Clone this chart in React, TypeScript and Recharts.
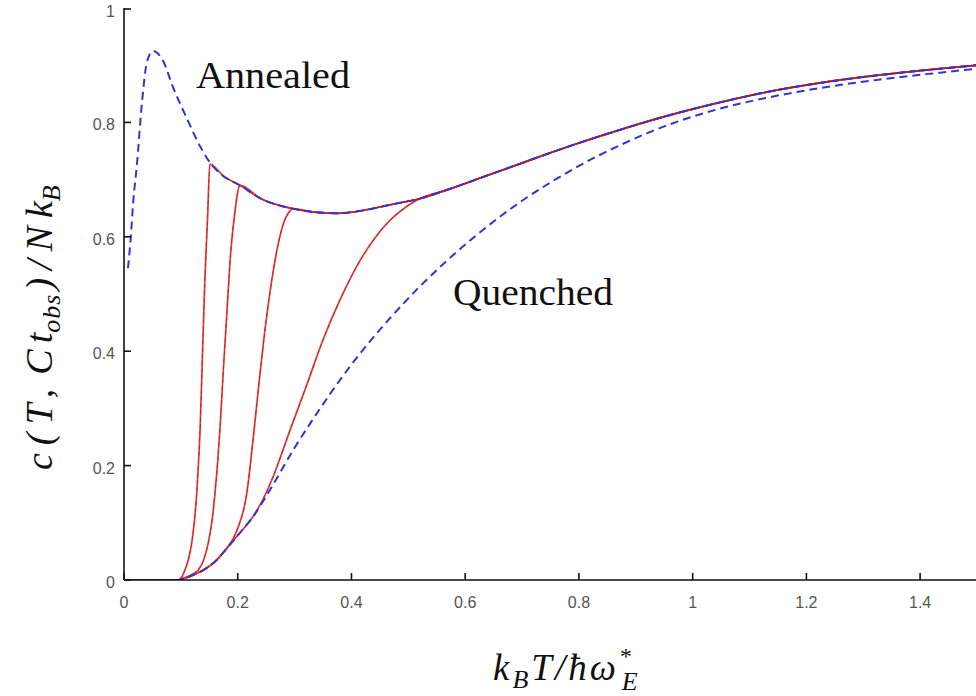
import React from "react";
import { LineChart, Line, XAxis, YAxis } from "recharts";

// ---- data ----
const annealedT = [0.007, 0.012, 0.0164, 0.0223, 0.032, 0.04, 0.051, 0.06, 0.069, 0.086, 0.11, 0.134, 0.151, 0.175, 0.204, 0.24, 0.298, 0.335, 0.374, 0.42, 0.468, 0.521, 0.568, 0.63, 0.697, 0.75, 0.8, 0.872, 0.95, 1.048, 1.13, 1.224, 1.33, 1.435, 1.5];
const annealedC = [0.545, 0.6, 0.664, 0.722, 0.839, 0.904, 0.925, 0.92, 0.907, 0.862, 0.808, 0.758, 0.73, 0.706, 0.69, 0.667, 0.649, 0.643, 0.641, 0.646, 0.656, 0.667, 0.682, 0.704, 0.728, 0.747, 0.764, 0.787, 0.81, 0.835, 0.853, 0.869, 0.883, 0.894, 0.9];

const quenchedT = [0, 0.095, 0.1, 0.11, 0.12, 0.139, 0.16, 0.178, 0.2, 0.227, 0.26, 0.298, 0.327, 0.38, 0.42, 0.468, 0.52, 0.562, 0.62, 0.697, 0.75, 0.8, 0.872, 0.95, 1.048, 1.13, 1.224, 1.33, 1.435, 1.5];
const quenchedC = [0, 0, 0.001, 0.004, 0.008, 0.017, 0.032, 0.052, 0.078, 0.111, 0.163, 0.228, 0.273, 0.35, 0.402, 0.458, 0.513, 0.553, 0.603, 0.661, 0.695, 0.724, 0.76, 0.793, 0.824, 0.843, 0.86, 0.875, 0.887, 0.894];

// finite cooling-rate curves (before they join the annealed curve)
const cool1T = [0, 0.095, 0.1, 0.107, 0.113, 0.119, 0.124, 0.128, 0.131, 0.134, 0.138, 0.142, 0.147, 0.151];
const cool1C = [0, 0, 0.003, 0.017, 0.035, 0.064, 0.105, 0.152, 0.205, 0.268, 0.395, 0.519, 0.635, 0.727];

const cool2T = [0, 0.095, 0.1, 0.11, 0.12, 0.131, 0.14, 0.148, 0.155, 0.16, 0.165, 0.169, 0.1747, 0.1805, 0.188, 0.194, 0.204];
const cool2C = [0, 0, 0.002, 0.005, 0.01, 0.018, 0.035, 0.064, 0.105, 0.152, 0.21, 0.268, 0.367, 0.46, 0.577, 0.635, 0.69];

const cool3T = [0, 0.095, 0.1, 0.11, 0.12, 0.139, 0.16, 0.178, 0.198, 0.216, 0.228, 0.238, 0.247, 0.257, 0.269, 0.28, 0.29, 0.298];
const cool3C = [0, 0, 0.001, 0.004, 0.008, 0.017, 0.032, 0.052, 0.085, 0.152, 0.255, 0.35, 0.43, 0.505, 0.577, 0.622, 0.643, 0.649];

const cool4T = [0, 0.095, 0.1, 0.11, 0.12, 0.139, 0.16, 0.178, 0.2, 0.227, 0.245, 0.262, 0.277, 0.292, 0.321, 0.35, 0.38, 0.409, 0.439, 0.468, 0.497, 0.521];
const cool4C = [0, 0, 0.001, 0.004, 0.008, 0.017, 0.032, 0.052, 0.078, 0.111, 0.142, 0.18, 0.22, 0.262, 0.34, 0.42, 0.49, 0.548, 0.595, 0.629, 0.653, 0.667];

const xTicks = [0, 0.2, 0.4, 0.6, 0.8, 1, 1.2, 1.4];
const yTicks = [0, 0.2, 0.4, 0.6, 0.8, 1];

// ---- build rows ----
const toRows = (ts: number[], cs: number[]) => ts.map((t, i) => ({ t, c: cs[i] }));
const annealed = toRows(annealedT, annealedC);
const quenched = toRows(quenchedT, quenchedC);
const withEnvelope = (ts: number[], cs: number[]) => {
  const last = ts[ts.length - 1];
  return [...toRows(ts, cs), ...annealed.filter((r) => r.t > last + 1e-9)];
};
const coolingCurves = [
  withEnvelope(cool1T, cool1C),
  withEnvelope(cool2T, cool2C),
  withEnvelope(cool3T, cool3C),
  withEnvelope(cool4T, cool4C),
];

const AXIS = "#111";
const TICKFONT = "'Liberation Sans', Arial, sans-serif";
const SERIF = "'Liberation Serif', 'DejaVu Serif', serif";
const RED = "#ec3535";
const BLUE = "#3434d6";
const TICKLABEL = "#555";

const BottomTick = (p: any) => (
  <g>
    <line x1={p.x} x2={p.x} y1={p.y} y2={p.y - 7} stroke={AXIS} strokeWidth={1.6} />
    <text x={p.x} y={p.y + 28} textAnchor="middle" fontSize={16} fill={TICKLABEL} fontFamily={TICKFONT}>
      {String(p.payload.value)}
    </text>
  </g>
);
const TopTick = (p: any) => (
  <line x1={p.x} x2={p.x} y1={p.y} y2={p.y + 7} stroke={AXIS} strokeWidth={1.6} />
);
const LeftTick = (p: any) => (
  <g>
    <line x1={p.x} x2={p.x + 7} y1={p.y} y2={p.y} stroke={AXIS} strokeWidth={1.6} />
    <text x={p.x - 9} y={p.y + 8} textAnchor="end" fontSize={16} fill={TICKLABEL} fontFamily={TICKFONT}>
      {String(p.payload.value)}
    </text>
  </g>
);
const RightTick = (p: any) => (
  <line x1={p.x} x2={p.x - 7} y1={p.y} y2={p.y} stroke={AXIS} strokeWidth={1.6} />
);

export default function App() {
  return (
    <div style={{ position: "absolute", left: 0, top: 0, width: 976, height: 696, overflow: "hidden", background: "#fff" }}>
      <LineChart width={980} height={696} margin={{ top: 8, right: 3, bottom: 0, left: 0 }}>
        <XAxis xAxisId="b" type="number" dataKey="t" domain={[0, 1.5]} ticks={xTicks} orientation="bottom"
          height={116} tickSize={0} tickMargin={0} tickLine={false} tick={<BottomTick />}
          axisLine={{ stroke: AXIS, strokeWidth: 1.6 }} allowDataOverflow />
        <XAxis xAxisId="t" type="number" dataKey="t" domain={[0, 1.5]} ticks={xTicks} orientation="top"
          height={0} tickSize={0} tickMargin={0} tickLine={false} tick={<TopTick />}
          axisLine={{ stroke: AXIS, strokeWidth: 1.6 }} allowDataOverflow />
        <YAxis yAxisId="l" type="number" domain={[0, 1]} ticks={yTicks} orientation="left"
          width={124} tickSize={0} tickMargin={0} tickLine={false} tick={<LeftTick />}
          axisLine={{ stroke: AXIS, strokeWidth: 1.6 }} allowDataOverflow />
        <YAxis yAxisId="r" type="number" domain={[0, 1]} ticks={yTicks} orientation="right"
          width={0} tickSize={0} tickMargin={0} tickLine={false} tick={<RightTick />}
          axisLine={{ stroke: AXIS, strokeWidth: 1.6 }} allowDataOverflow />
        {coolingCurves.map((rows, i) => (
          <Line key={"r" + i} xAxisId="b" yAxisId="l" data={rows} dataKey="c" type="monotone"
            stroke={RED} strokeWidth={1.7} dot={false} isAnimationActive={false} />
        ))}
        {coolingCurves.map((rows, i) => (
          <Line key={"k" + i} xAxisId="b" yAxisId="l" data={rows} dataKey="c" type="monotone"
            stroke="#6a1010" strokeOpacity={0.55} strokeWidth={0.7} strokeDasharray="4 3" dot={false} isAnimationActive={false} />
        ))}
        <Line xAxisId="b" yAxisId="l" data={quenched} dataKey="c" type="monotone"
          stroke={BLUE} strokeWidth={2} strokeDasharray="8 5" dot={false} isAnimationActive={false} />
        <Line xAxisId="b" yAxisId="l" data={annealed} dataKey="c" type="monotone"
          stroke={BLUE} strokeWidth={2} strokeDasharray="8 5" dot={false} isAnimationActive={false} />
      </LineChart>
      <svg width={976} height={696} style={{ position: "absolute", left: 0, top: 0, pointerEvents: "none" }}>
        <text x={196} y={88} fontSize={38} fontFamily={SERIF} fill="#111" textLength={154} lengthAdjust="spacingAndGlyphs">Annealed</text>
        <text x={453} y={305} fontSize={38} fontFamily={SERIF} fill="#111" textLength={160} lengthAdjust="spacingAndGlyphs">Quenched</text>
        <text transform="rotate(-90)" x={-470} y={52} fontSize={38} fontStyle="italic" fontFamily={SERIF} fill="#111">
          <tspan letterSpacing={8}>c(T,</tspan><tspan letterSpacing={6} dx={6}>C</tspan><tspan>t</tspan>
          <tspan dy={8} fontSize={26} letterSpacing={1}>obs</tspan>
          <tspan dy={-8} dx={3} letterSpacing={8}>)/N</tspan><tspan>k</tspan>
          <tspan dy={8} fontSize={26}>B</tspan>
        </text>
        <text x={493} y={680} fontSize={37} fontStyle="italic" fontFamily={SERIF} fill="#111" letterSpacing={3}>
          k<tspan dy={8} fontSize={26}>B</tspan><tspan dy={-8}>T/ħω</tspan><tspan dy={-16} fontSize={24}>*</tspan><tspan dx={-12} dy={26} fontSize={26}>E</tspan>
        </text>
      </svg>
    </div>
  );
}
